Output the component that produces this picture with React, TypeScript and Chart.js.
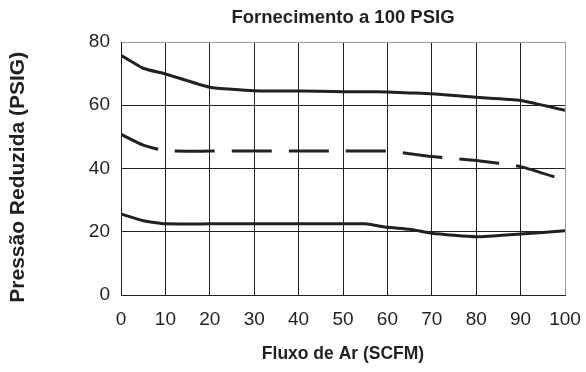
import React, { useEffect, useRef } from "react";
import { Chart, registerables } from "chart.js";

Chart.register(...registerables);

const flowSCFM = [0, 5, 10, 20, 30, 40, 50, 55, 60, 65, 70, 80, 90, 100];
const upperCurve = [75.8, 71.7, 69.9, 65.7, 64.6, 64.5, 64.3, 64.25, 64.2, 63.9, 63.6, 62.5, 61.5, 58.4];
const middleCurve = [50.8, 47.4, 45.6, 45.5, 45.5, 45.5, 45.5, 45.5, 45.5, 44.7, 43.8, 42.5, 40.6, 36.3];
const lowerCurve = [25.6, 23.5, 22.5, 22.5, 22.5, 22.5, 22.5, 22.5, 21.4, 20.8, 19.5, 18.4, 19.3, 20.3];

const chartTitle = "Fornecimento a 100 PSIG";
const xTitle = "Fluxo de Ar (SCFM)";
const yTitle = "Pressão Reduzida (PSIG)   ";
const xTicks = [0, 10, 20, 30, 40, 50, 60, 70, 80, 90, 100];
const yTicks = [0, 20, 40, 60, 80];

const INK = "#231f20";
const FRAME = "#9a9a9a";
const FONT = "'Liberation Sans', Arial, Helvetica, sans-serif";

const toPoints = (ys: number[]) => flowSCFM.map((x, i) => ({ x, y: ys[i] }));

export default function App() {
  const ref = useRef<HTMLCanvasElement | null>(null);

  useEffect(() => {
    if (!ref.current) return;
    const lineBase = {
      borderColor: INK,
      borderWidth: 3,
      pointRadius: 0,
      fill: false,
      tension: 0.15,
      borderCapStyle: "butt" as const,
      borderJoinStyle: "round" as const,
    };
    const chart = new Chart(ref.current, {
      type: "line",
      data: {
        datasets: [
          { ...lineBase, label: "upper", data: toPoints(upperCurve) },
          { ...lineBase, label: "middle", data: toPoints(middleCurve), borderDash: [40, 17] },
          { ...lineBase, label: "lower", data: toPoints(lowerCurve) },
        ],
      },
      options: {
        animation: false,
        responsive: true,
        maintainAspectRatio: false,
        layout: { padding: { left: 0, right: 21, top: 0, bottom: 0 } },
        plugins: {
          legend: { display: false },
          tooltip: { enabled: false },
          title: {
            display: true,
            text: chartTitle,
            fullSize: false,
            color: INK,
            font: { family: FONT, size: 18.5, weight: "bold" },
            padding: { top: 7, bottom: 12.8 },
          },
        },
        scales: {
          x: {
            type: "linear",
            min: 0,
            max: 100,
            afterBuildTicks: (s: any) => {
              s.ticks = xTicks.map((v) => ({ value: v }));
            },
            afterFit: (s: any) => {
              s.height = 77;
              s.paddingLeft = 0;
              s.paddingRight = 0;
            },
            ticks: {
              color: INK,
              font: { family: FONT, size: 19 },
              padding: 13.5,
              maxRotation: 0,
              autoSkip: false,
            },
            grid: {
              drawTicks: false,
              lineWidth: 1,
              color: (ctx: any) => (ctx.tick && ctx.tick.value === 100 ? FRAME : INK),
            },
            border: { display: true, color: INK, width: 1 },
            title: {
              display: true,
              text: xTitle,
              color: INK,
              font: { family: FONT, size: 17.5, weight: "bold" },
              padding: { top: 0, bottom: 7.5 },
            },
          },
          y: {
            type: "linear",
            min: 0,
            max: 80,
            afterBuildTicks: (s: any) => {
              s.ticks = yTicks.map((v) => ({ value: v }));
            },
            afterFit: (s: any) => {
              s.width = 121;
            },
            ticks: {
              color: INK,
              font: { family: FONT, size: 19 },
              padding: 11,
            },
            grid: {
              drawTicks: false,
              lineWidth: 1,
              color: (ctx: any) => (ctx.tick && ctx.tick.value === 80 ? FRAME : INK),
            },
            border: { display: true, color: INK, width: 1 },
            title: {
              display: true,
              text: yTitle,
              color: INK,
              font: { family: FONT, size: 21, weight: "bold" },
              padding: { top: 5.5, bottom: 0 },
            },
          },
        },
      },
    });
    return () => chart.destroy();
  }, []);

  return (
    <div style={{ position: "fixed", left: 0, top: 0, width: 586, height: 372, background: "#fff" }}>
      <canvas ref={ref} style={{ display: "block" }} />
    </div>
  );
}
